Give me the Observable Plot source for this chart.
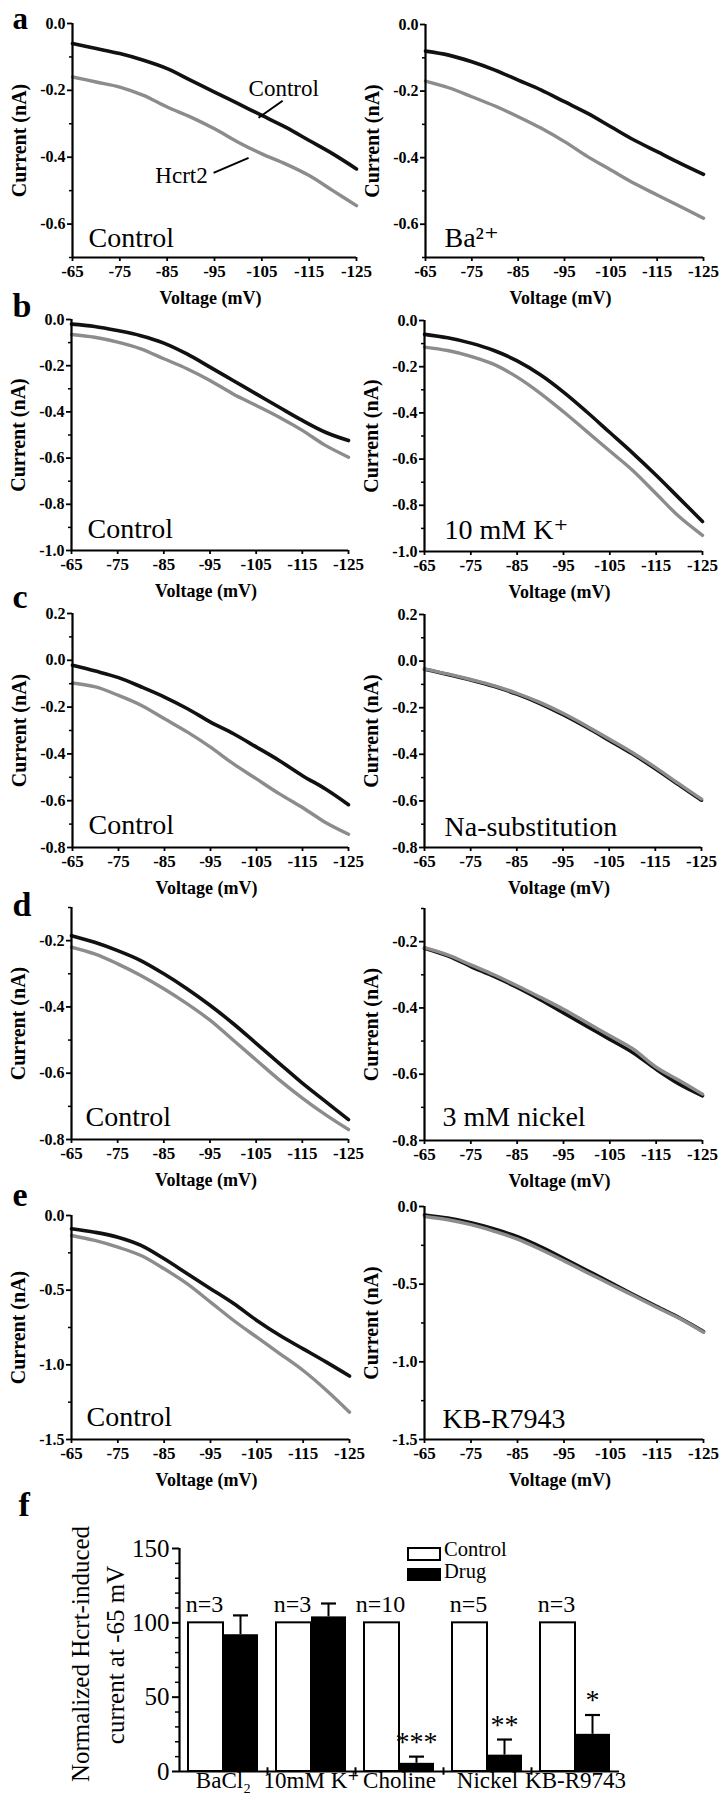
<!DOCTYPE html>
<html><head><meta charset="utf-8">
<script src="https://cdn.jsdelivr.net/npm/d3@7"></script>
<script src="https://cdn.jsdelivr.net/npm/@observablehq/plot@0.6"></script>
<style>
body{margin:0;background:#fff;}
#fig{position:relative;width:724px;height:1800px;overflow:hidden;background:#fff;font-family:"Liberation Serif","DejaVu Serif",serif;color:#000;}
#fig > *{position:absolute;}
#fig svg text{font-family:"Liberation Serif","DejaVu Serif",serif;}
.lg{font-size:20.5px;line-height:17px;white-space:nowrap;font-family:"Liberation Serif","DejaVu Serif",serif;}
</style></head>
<body><div id="fig"></div>
<script>
// ---------- data ----------
const volts = [-65,-70,-75,-80,-85,-90,-95,-100,-105,-110,-115,-120,-125];
const xTickLabels = [-65,-75,-85,-95,-105,-115,-125];

const aControl_ctl  = [-0.06,-0.075,-0.09,-0.11,-0.135,-0.17,-0.205,-0.24,-0.275,-0.31,-0.35,-0.39,-0.435];
const aControl_hcrt = [-0.16,-0.175,-0.19,-0.215,-0.25,-0.28,-0.315,-0.355,-0.39,-0.42,-0.455,-0.5,-0.545];
const aBa_ctl  = [-0.08,-0.092,-0.112,-0.137,-0.167,-0.197,-0.232,-0.267,-0.307,-0.347,-0.382,-0.417,-0.45];
const aBa_hcrt = [-0.17,-0.19,-0.217,-0.245,-0.277,-0.312,-0.352,-0.397,-0.437,-0.477,-0.512,-0.547,-0.582];
const bControl_ctl  = [-0.02,-0.03,-0.048,-0.07,-0.102,-0.149,-0.206,-0.264,-0.322,-0.38,-0.437,-0.488,-0.524];
const bControl_hcrt = [-0.065,-0.077,-0.098,-0.127,-0.17,-0.213,-0.264,-0.322,-0.372,-0.423,-0.48,-0.545,-0.596];
const bK_ctl  = [-0.06,-0.075,-0.098,-0.13,-0.175,-0.235,-0.31,-0.395,-0.485,-0.575,-0.67,-0.77,-0.87];
const bK_hcrt = [-0.115,-0.13,-0.155,-0.19,-0.245,-0.315,-0.395,-0.48,-0.565,-0.65,-0.75,-0.85,-0.93];
const cControl_ctl  = [-0.021,-0.046,-0.074,-0.114,-0.157,-0.207,-0.264,-0.314,-0.371,-0.429,-0.493,-0.55,-0.617];
const cControl_hcrt = [-0.097,-0.114,-0.15,-0.193,-0.25,-0.307,-0.371,-0.443,-0.507,-0.571,-0.629,-0.693,-0.743];
const cNa_ctl  = [-0.035,-0.057,-0.081,-0.108,-0.142,-0.182,-0.23,-0.283,-0.34,-0.398,-0.462,-0.53,-0.597];
const cNa_hcrt = [-0.033,-0.055,-0.079,-0.105,-0.138,-0.177,-0.224,-0.277,-0.334,-0.392,-0.456,-0.525,-0.592];
const dControl_ctl  = [-0.185,-0.205,-0.23,-0.26,-0.3,-0.345,-0.395,-0.45,-0.51,-0.57,-0.63,-0.685,-0.74];
const dControl_hcrt = [-0.22,-0.24,-0.27,-0.305,-0.345,-0.39,-0.44,-0.5,-0.56,-0.62,-0.675,-0.725,-0.77];
const dNi_ctl  = [-0.22,-0.243,-0.275,-0.305,-0.338,-0.375,-0.415,-0.455,-0.495,-0.535,-0.585,-0.63,-0.665];
const dNi_hcrt = [-0.218,-0.24,-0.27,-0.3,-0.333,-0.368,-0.404,-0.444,-0.484,-0.524,-0.579,-0.619,-0.66];
const eControl_ctl  = [-0.089,-0.112,-0.145,-0.2,-0.29,-0.39,-0.49,-0.59,-0.703,-0.804,-0.893,-0.982,-1.075];
const eControl_hcrt = [-0.134,-0.167,-0.212,-0.268,-0.357,-0.458,-0.58,-0.703,-0.815,-0.926,-1.038,-1.17,-1.317];
const eKB_ctl  = [-0.055,-0.075,-0.105,-0.145,-0.195,-0.26,-0.335,-0.412,-0.49,-0.568,-0.645,-0.72,-0.805];
const eKB_hcrt = [-0.064,-0.085,-0.117,-0.16,-0.21,-0.277,-0.35,-0.426,-0.5,-0.575,-0.65,-0.723,-0.81];

const aAnnotText = [{text:"Control", v:-102.2, i:-0.216}, {text:"Hcrt2", v:-82.5, i:-0.477}];
const aAnnotLines = [{v1:-109.4, i1:-0.231, v2:-104.3, i2:-0.282}, {v1:-94.8, i1:-0.447, v2:-102.2, i2:-0.402}];

const treatments = ["BaCl\u2082","10mM K\u207A","Choline","Nickel","KB-R9743"];
const controlPct = [100,100,100,100,100];
const drugPct    = [92,104,5.5,11,25];
const drugErr    = [13,9,4.5,10.5,13];
const nLabels    = ["n=3","n=3","n=10","n=5","n=3"];
const sigMarks   = ["","","***","**","*"];
const legendLabels = ["Control","Drug"];

// ---------- layout ----------
const BLACK = "#111", GRAY = "#8c8c8c";
const SERIF = '"Liberation Serif","DejaVu Serif",serif';
const fig = document.getElementById("fig");

const panels = [
  {col:0,x0:72,x1:356,y0:23,y1:257,dom:[-0.7,0],major:[0,-0.2,-0.4,-0.6],minor:[-0.1,-0.3,-0.5,-0.7],black:aControl_ctl,gray:aControl_hcrt,label:"Control",letter:"a",letterY:28,letterSize:31,ldx:16,ldy:-11,annot:true},
  {col:1,x0:425,x1:703,y0:24,y1:257,dom:[-0.7,0],major:[0,-0.2,-0.4,-0.6],minor:[-0.1,-0.3,-0.5,-0.7],black:aBa_ctl,gray:aBa_hcrt,label:"Ba\u00B2\u207A",ldx:19,ldy:-11},
  {col:0,x0:71,x1:348,y0:319,y1:550,dom:[-1,0],major:[0,-0.2,-0.4,-0.6,-0.8,-1],minor:[-0.1,-0.3,-0.5,-0.7,-0.9],black:bControl_ctl,gray:bControl_hcrt,label:"Control",letter:"b",letterY:316,ldx:16,ldy:-13},
  {col:1,x0:424,x1:702,y0:320,y1:551,dom:[-1,0],major:[0,-0.2,-0.4,-0.6,-0.8,-1],minor:[-0.1,-0.3,-0.5,-0.7,-0.9],black:bK_ctl,gray:bK_hcrt,label:"10 mM K\u207A",ldx:20,ldy:-13},
  {col:0,x0:72,x1:348,y0:613,y1:847,dom:[-0.8,0.2],major:[0.2,0,-0.2,-0.4,-0.6,-0.8],minor:[0.1,-0.1,-0.3,-0.5,-0.7],black:cControl_ctl,gray:cControl_hcrt,label:"Control",letter:"c",letterY:607,ldx:16,ldy:-14},
  {col:1,x0:424,x1:701,y0:614,y1:847,dom:[-0.8,0.2],major:[0.2,0,-0.2,-0.4,-0.6,-0.8],minor:[0.1,-0.1,-0.3,-0.5,-0.7],black:cNa_ctl,gray:cNa_hcrt,label:"Na-substitution",ldx:20,ldy:-12},
  {col:0,x0:71,x1:348,y0:907,y1:1139,dom:[-0.8,-0.1],major:[-0.2,-0.4,-0.6,-0.8],minor:[-0.1,-0.3,-0.5,-0.7],black:dControl_ctl,gray:dControl_hcrt,label:"Control",letter:"d",letterY:915,ldx:14,ldy:-14},
  {col:1,x0:424,x1:702,y0:908,y1:1140,dom:[-0.8,-0.1],major:[-0.2,-0.4,-0.6,-0.8],minor:[-0.1,-0.3,-0.5,-0.7],black:dNi_ctl,gray:dNi_hcrt,label:"3 mM nickel",ldx:18,ldy:-15},
  {col:0,x0:71,x1:349,y0:1215,y1:1439,dom:[-1.5,0],major:[0,-0.5,-1,-1.5],minor:[-0.25,-0.75,-1.25],black:eControl_ctl,gray:eControl_hcrt,label:"Control",letter:"e",letterY:1205,ldx:15,ldy:-14},
  {col:1,x0:424,x1:703,y0:1206,y1:1439,dom:[-1.5,0],major:[0,-0.5,-1,-1.5],minor:[-0.25,-0.75,-1.25],black:eKB_ctl,gray:eKB_hcrt,label:"KB-R7943",ldx:18,ldy:-12}
];

function place(el, left, top){ el.style.position="absolute"; el.style.left=left+"px"; el.style.top=top+"px"; fig.appendChild(el); }

for (const p of panels) {
  const colX = p.col === 0 ? 0 : 362;
  const mt = Math.min(30, p.y0), mb = 58;
  const data = volts.map((v,i)=>({v, ctl:p.black[i], hc:p.gray[i]}));
  const marks = [
    Plot.line(data, {x:"v", y:"ctl", stroke:BLACK, strokeWidth:3.6, curve:"catmull-rom"}),
    Plot.line(data, {x:"v", y:"hc", stroke:GRAY, strokeWidth:3.4, curve:"catmull-rom"}),
    Plot.ruleX([-65], {strokeWidth:2.2}),
    Plot.ruleY([p.dom[0]], {strokeWidth:2.2}),
    Plot.axisY({ticks:p.major, tickSize:5, tickPadding:2, strokeWidth:1.8, tickFormat:d=>d.toFixed(1), fontSize:16, label:null}),
    Plot.axisY({ticks:p.minor, tickSize:3, strokeWidth:1.5, tickFormat:()=>"", label:null}),
    Plot.axisX({ticks:xTickLabels, tickSize:4, tickPadding:3, strokeWidth:1.8, tickFormat:d=>String(d), fontSize:17, label:null}),
    Plot.text([p.label], {text:d=>d, frameAnchor:"bottom-left", dx:p.ldx, dy:p.ldy, textAnchor:"start", lineAnchor:"bottom", fontSize:28, fontWeight:"normal"}),
    Plot.text(["Current (nA)"], {text:d=>d, frameAnchor:"left", textAnchor:"middle", rotate:-90, dx:-53, fontSize:20, fontWeight:"bold"}),
    Plot.text(["Voltage (mV)"], {text:d=>d, frameAnchor:"bottom", textAnchor:"middle", dx:-4, dy:46, lineAnchor:"bottom", fontSize:18, fontWeight:"bold"})
  ];
  if (p.letter) marks.push(Plot.text([p.letter], {text:d=>d, frameAnchor:"top-left", dx:12-p.x0, dy:p.letterY-p.y0, textAnchor:"start", lineAnchor:"bottom", fontSize:p.letterSize||34, fontWeight:"bold"}));
  if (p.annot) {
    marks.push(Plot.text(aAnnotText, {x:"v", y:"i", text:"text", textAnchor:"start", lineAnchor:"bottom", fontSize:23, fontWeight:"normal"}));
    marks.push(Plot.link(aAnnotLines, {x1:"v1", y1:"i1", x2:"v2", y2:"i2", strokeWidth:2, stroke:"#000"}));
  }
  const svg = Plot.plot({
    width:362, height:(p.y1-p.y0)+mt+mb,
    marginLeft:p.x0-colX, marginRight:colX+362-p.x1, marginTop:mt, marginBottom:mb,
    x:{domain:[-65,-125]}, y:{domain:p.dom},
    style:{fontFamily:SERIF, fontWeight:"bold", color:"#000", background:"transparent", overflow:"visible"},
    marks
  });
  place(svg, colX, p.y0-mt);
}

// ---------- panel f ----------
const fData = treatments.map((t,i)=>({t, c:controlPct[i], d:drugPct[i], top:drugPct[i]+drugErr[i], n:nLabels[i], s:sigMarks[i]}));
const fMinor = [10,20,30,40,60,70,80,90,110,120,130,140];
const fTop = 1500, fAxisTop = 1548, fAxis0 = 1771, fLeft = 179, fRight = 619;
const fsvg = Plot.plot({
  width:724, height:1800-fTop,
  marginLeft:fLeft, marginRight:724-fRight, marginTop:fAxisTop-fTop, marginBottom:1800-fAxis0,
  x:{domain:treatments, padding:0}, y:{domain:[0,150]},
  style:{fontFamily:SERIF, fontWeight:"normal", color:"#000", background:"transparent", overflow:"visible"},
  marks:[
    Plot.barY(fData, {x:"t", y:"c", fill:"white", stroke:"black", strokeWidth:2, insetLeft:9, insetRight:44}),
    Plot.barY(fData, {x:"t", y:"d", fill:"black", insetLeft:44, insetRight:9}),
    Plot.ruleX(fData, {x:"t", y1:"d", y2:"top", dx:17, strokeWidth:2}),
    Plot.tickY(fData, {x:"t", y:"top", insetLeft:54, insetRight:19, strokeWidth:2.2}),
    Plot.text(fData, {x:"t", y:"c", text:"n", dx:-19, dy:-19, fontSize:24}),
    Plot.text(fData, {x:"t", y:"top", text:"s", dx:17, dy:-15, fontSize:28}),
    Plot.ruleY([0], {strokeWidth:2.2}),
    Plot.ruleX([treatments[0]], {x:d=>d, dx:-44, y1:0, y2:150, strokeWidth:2.2}),
    Plot.ruleX(treatments.slice(1), {x:d=>d, dx:-44, y1:-2.5, y2:2.5, strokeWidth:2}),
    Plot.axisY({ticks:[0,50,100,150], tickSize:7, tickPadding:3, strokeWidth:2, fontSize:25, label:null}),
    Plot.axisY({ticks:fMinor, tickSize:4, strokeWidth:1.5, tickFormat:()=>"", label:null}),
    Plot.axisX({tickSize:0, tickPadding:0, fontSize:23, label:null}),
    Plot.text(["Normalized Hcrt-induced"], {text:d=>d, frameAnchor:"left", textAnchor:"middle", rotate:-90, dx:80-fLeft, dy:-6, fontSize:25}),
    Plot.text(["current at -65 mV"], {text:d=>d, frameAnchor:"left", textAnchor:"middle", rotate:-90, dx:115-fLeft, dy:-5, fontSize:25}),
    Plot.text(["f"], {text:d=>d, frameAnchor:"top-left", dx:18-fLeft, dy:1515-fAxisTop, textAnchor:"start", lineAnchor:"bottom", fontSize:34, fontWeight:"bold"})
  ]
});
place(fsvg, 0, fTop);

// legend
function box(left, top, w, h, fill, border){ const d=document.createElement("div"); d.style.width=w+"px"; d.style.height=h+"px"; d.style.background=fill; d.style.boxSizing="border-box"; d.style.border=border; place(d,left,top); }
function label(text, left, top){ const d=document.createElement("div"); d.className="lg"; d.textContent=text; place(d,left,top); }
box(407,1547,34,14,"#fff","2px solid #000");
label(legendLabels[0],444,1541);
box(407,1568,34,13,"#000","none");
label(legendLabels[1],444,1563);
</script>
</body></html>
